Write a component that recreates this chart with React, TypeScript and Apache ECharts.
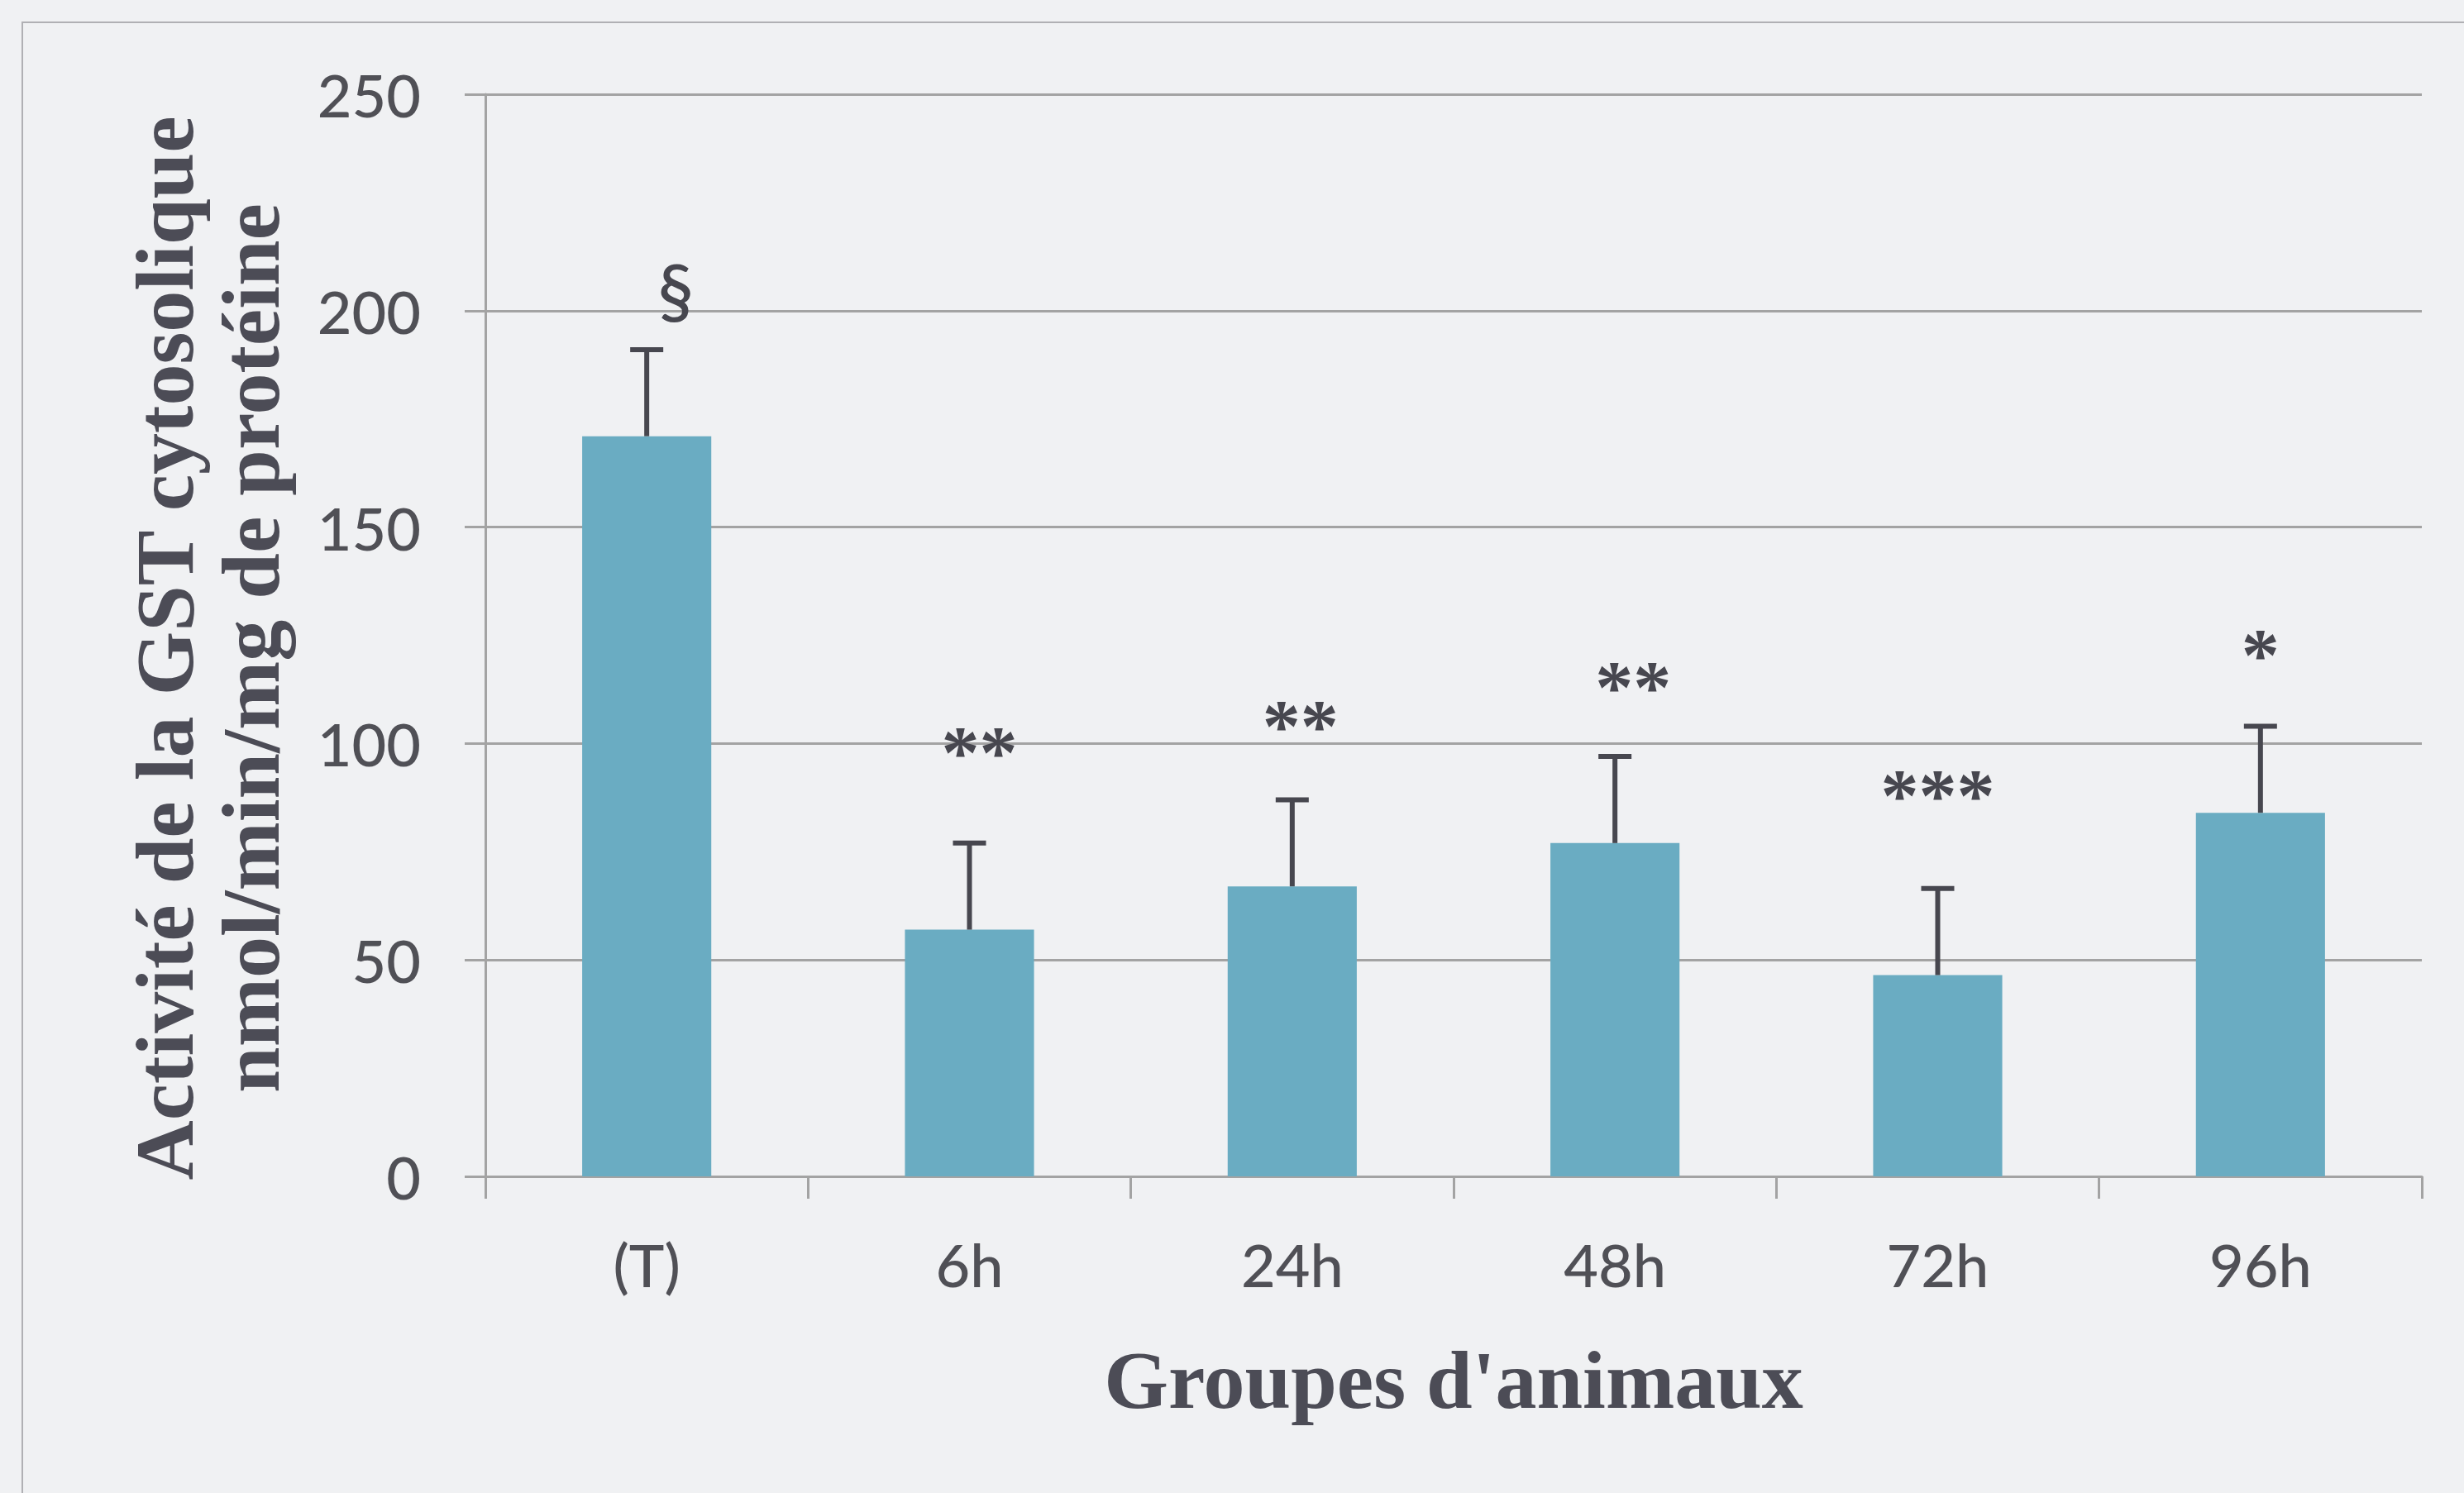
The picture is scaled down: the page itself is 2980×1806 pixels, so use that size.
import React, { useEffect, useRef } from "react";
import * as echarts from "echarts";

// Animal groups on the x axis
const categories = ["(T)", "6h", "24h", "48h", "72h", "96h"];
// Mean cytosolic GST activity (nmol/min/mg de protéine)
const means = [171, 57, 67, 77, 46.5, 84];
// Standard deviations (upper error bars)
const sds = [20, 20, 20, 20, 20, 20];
// Significance marks and the activity level where each sits
const marks = ["§", "**", "**", "**", "***", "*"];
const markLevels = [205, 98, 104, 113, 88, 120.5];
// Y-axis ticks
const yTicks = { min: 0, max: 250, step: 50 };
// Axis titles
const yTitleLines = ["Activité de la GST cytosolique", "nmol/min/mg de protéine"];
const xTitle = "Groupes d'animaux";

// Horizontal nudge (px) for each significance mark
const MARK_NUDGE_X = [35, 12, 10, 22, 0, 0];

const AXIS_GREY = "#a3a3a3";
const TEXT_GREY = "#505056";
const TITLE_GREY = "#4c4c56";
const BAR_BLUE = "#6aacc2";
const INK = "#47474f";

export default function App() {
  const ref = useRef<HTMLDivElement>(null);

  useEffect(() => {
    if (!ref.current) return;
    const chart = echarts.init(ref.current, null, { renderer: "svg" });

    const titleStyle = {
      fontFamily: "Liberation Serif",
      fontWeight: "bold",
      fontSize: 100,
      fill: TITLE_GREY,
      align: "center",
      verticalAlign: "middle",
    };

    chart.setOption({
      animation: false,
      backgroundColor: "#f0f1f3",
      graphic: [
        {
          type: "rect",
          z: -1,
          shape: { x: 27, y: 27, width: 3200, height: 2000 },
          style: { fill: "none", stroke: "#b0b0b4", lineWidth: 2 },
        },
        // two-line y-axis title, read bottom to top
        {
          type: "text",
          x: 199,
          y: 784,
          rotation: Math.PI / 2,
          style: { ...titleStyle, text: yTitleLines[0] },
        },
        {
          type: "text",
          x: 303,
          y: 784,
          rotation: Math.PI / 2,
          style: { ...titleStyle, text: yTitleLines[1] },
        },
      ],
      grid: { left: 587, right: 51, top: 114, bottom: 383 },
      xAxis: {
        type: "category",
        data: categories,
        axisLine: { lineStyle: { color: AXIS_GREY, width: 3 } },
        axisTick: {
          show: true,
          interval: 0,
          alignWithLabel: false,
          length: 27,
          lineStyle: { color: AXIS_GREY, width: 3 },
        },
        axisLabel: {
          interval: 0,
          fontSize: 72,
          fontFamily: "Lato",
          fontWeight: 500,
          color: TEXT_GREY,
          margin: 70,
        },
        name: xTitle,
        nameLocation: "middle",
        nameGap: 246,
        nameTextStyle: {
          fontFamily: "Liberation Serif",
          fontWeight: "bold",
          fontSize: 100,
          color: TITLE_GREY,
          verticalAlign: "middle",
        },
      },
      yAxis: {
        type: "value",
        min: yTicks.min,
        max: yTicks.max,
        interval: yTicks.step,
        axisLine: { show: true, lineStyle: { color: AXIS_GREY, width: 3 } },
        axisTick: { show: true, length: 25, lineStyle: { color: AXIS_GREY, width: 3 } },
        axisLabel: {
          fontSize: 72,
          fontFamily: "Lato",
          fontWeight: 500,
          color: TEXT_GREY,
          margin: 78,
        },
        splitLine: { show: true, lineStyle: { color: AXIS_GREY, width: 3 } },
      },
      series: [
        {
          type: "bar",
          data: means,
          barWidth: "40%",
          itemStyle: { color: BAR_BLUE },
          z: 2,
        },
        {
          // upper error bars: stem from the bar top plus a cap
          type: "custom",
          z: 3,
          data: categories.map((_, i) => [i, means[i], sds[i]]),
          encode: { x: 0, y: 1 },
          renderItem: (params: any, api: any) => {
            const i = api.value(0);
            const base = api.coord([i, api.value(1)]);
            const top = api.coord([i, api.value(1) + api.value(2)]);
            const style = { stroke: INK, lineWidth: 6 };
            return {
              type: "group",
              children: [
                { type: "line", shape: { x1: base[0], y1: base[1], x2: top[0], y2: top[1] }, style },
                { type: "line", shape: { x1: top[0] - 20, y1: top[1], x2: top[0] + 20, y2: top[1] }, style },
              ],
            };
          },
        },
        {
          // significance marks above the error bars
          type: "custom",
          z: 4,
          data: categories.map((_, i) => [i, markLevels[i]]),
          encode: { x: 0, y: 1 },
          renderItem: (params: any, api: any) => {
            const idx = params.dataIndex;
            const p = api.coord([api.value(0), api.value(1)]);
            const isSection = marks[idx] === "§";
            return {
              type: "text",
              x: p[0] + MARK_NUDGE_X[idx],
              y: p[1],
              style: {
                text: marks[idx],
                align: "center",
                verticalAlign: "middle",
                fill: INK,
                fontFamily: isSection ? "Lato" : "Liberation Serif",
                fontWeight: isSection ? 500 : "bold",
                fontSize: isSection ? 88 : 92,
              },
            };
          },
        },
      ],
    });

    return () => chart.dispose();
  }, []);

  return (
    <div
      ref={ref}
      style={{ position: "fixed", left: 0, top: 0, width: 2980, height: 1806 }}
    />
  );
}
